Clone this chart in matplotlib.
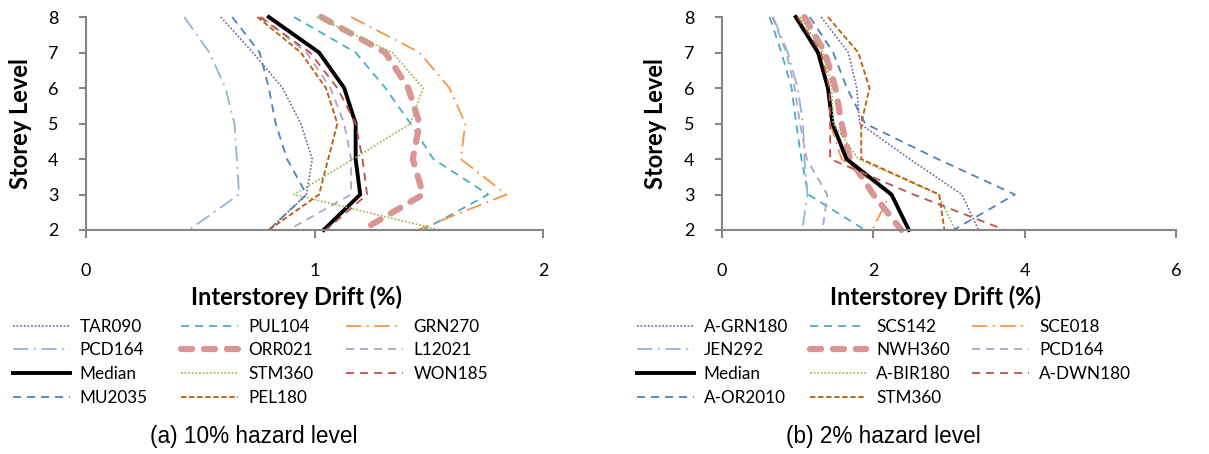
import numpy as np
import matplotlib
matplotlib.use('Agg')
import matplotlib.pyplot as plt

plt.rcParams['font.family'] = ['Lato', 'DejaVu Sans']
plt.rcParams['lines.scale_dashes'] = False

storeys = [8, 7, 6, 5, 4, 3, 2]

# (a) 10% hazard level
names_a = ['TAR090', 'PUL104', 'GRN270', 'PCD164', 'ORR021', 'L12021',
           'Median', 'STM360', 'WON185', 'MU2035', 'PEL180']
drift_a = {
    'TAR090': [0.59, 0.73, 0.86, 0.94, 0.99, 0.965, 0.80],
    'PUL104': [0.91, 1.18, 1.31, 1.42, 1.52, 1.76, 1.475],
    'GRN270': [1.16, 1.46, 1.59, 1.66, 1.64, 1.84, 1.45],
    'PCD164': [0.43, 0.54, 0.61, 0.65, 0.66, 0.67, 0.45],
    'ORR021': [1.03, 1.31, 1.41, 1.46, 1.43, 1.475, 1.21],
    'L12021': [0.77, 0.965, 1.07, 1.13, 1.16, 1.16, 0.885],
    'Median': [0.80, 1.02, 1.13, 1.18, 1.18, 1.20, 1.04],
    'STM360': [1.01, 1.34, 1.475, 1.42, 1.17, 0.91, 1.55],
    'WON185': [0.76, 0.98, 1.10, 1.18, 1.21, 1.23, 1.05],
    'MU2035': [0.64, 0.76, 0.80, 0.83, 0.88, 0.965, 0.80],
    'PEL180': [0.75, 0.94, 1.05, 1.10, 1.06, 1.02, 0.80],
}

# (b) 2% hazard level
names_b = ['A-GRN180', 'SCS142', 'SCE018', 'JEN292', 'NWH360', 'PCD164',
           'Median', 'A-BIR180', 'A-DWN180', 'A-OR2010', 'STM360']
drift_b = {
    'A-GRN180': [1.31, 1.67, 1.78, 1.82, 2.48, 3.17, 3.39],
    'SCS142': [0.63, 0.785, 0.92, 0.98, 1.05, 1.14, 1.89],
    'SCE018': [0.96, 1.25, 1.40, 1.43, 1.58, 2.22, 1.985],
    'JEN292': [0.675, 0.87, 1.00, 1.07, 1.09, 1.13, 1.06],
    'NWH360': [1.09, 1.36, 1.50, 1.58, 1.69, 2.00, 2.37],
    'PCD164': [0.665, 0.85, 0.96, 1.03, 1.12, 1.39, 1.33],
    'Median': [0.975, 1.27, 1.40, 1.46, 1.645, 2.24, 2.47],
    'A-BIR180': [1.03, 1.34, 1.45, 1.47, 1.80, 2.86, 3.08],
    'A-DWN180': [1.00, 1.31, 1.42, 1.43, 1.43, 2.53, 3.74],
    'A-OR2010': [1.16, 1.47, 1.65, 1.89, 2.85, 3.87, 3.06],
    'STM360': [1.40, 1.80, 1.95, 1.84, 1.84, 2.87, 2.94],
}

# line styles by legend slot (same look in both panels)
styles = [
    dict(color='#8064A2', lw=1.2, dashes=(1.3, 1.3)),
    dict(color='#4BACC6', lw=1.3, dashes=(5.8, 4.3)),
    dict(color='#F79646', lw=1.3, dashes=(11, 4, 1.4, 4)),
    dict(color='#95B3D7', lw=1.3, dashes=(11, 4, 1.4, 4)),
    dict(color='#D99694', lw=4.5, dashes=(8, 8.5), dash_capstyle='round'),
    dict(color='#B3A2C7', lw=1.3, dashes=(5.8, 4.3)),
    dict(color='black', lw=2.8),
    dict(color='#9BBB59', lw=1.2, dashes=(1.3, 1.3)),
    dict(color='#C0504D', lw=1.3, dashes=(5.8, 4.3)),
    dict(color='#4F81BD', lw=1.3, dashes=(5.8, 4.3)),
    dict(color='#BF5B0A', lw=1.3, dashes=(3.9, 1.9)),
]

fig = plt.figure(figsize=(12.09, 4.54), dpi=100)
ax1 = fig.add_axes([86/1209, 1-230/454, 457/1209, 213/454])
ax2 = fig.add_axes([722/1209, 1-230/454, 454/1209, 213/454])

# legend order: fill column-wise so it reads row-wise like the original
order = [0, 3, 6, 9, 1, 4, 7, 10, 2, 5, 8]

panels = [
    (ax1, names_a, drift_a, 2, [0, 1, 2], 0.46, -0.118, 13, 1.95, '(a) 10% hazard level', 254),
    (ax2, names_b, drift_b, 6, [0, 2, 4, 6], 0.471, -0.121, 637, 1.25, '(b) 2% hazard level', 883),
]

for ax, names, drift, xmax, xt, lx, ly, legx, colsp, cap, capx in panels:
    lines = []
    for i, n in enumerate(names):
        ln, = ax.plot(drift[n], storeys, label=n, **styles[i])
        ln.set_clip_on(False)
        lines.append(ln)
    ax.set_xlim(0, xmax)
    ax.set_ylim(2, 8)
    ax.set_xticks(xt)
    ax.set_yticks(range(2, 9))
    for s in ['top', 'right']:
        ax.spines[s].set_visible(False)
    for s in ['left', 'bottom']:
        ax.spines[s].set_color('#868686')
        ax.spines[s].set_linewidth(1.5)
    ax.tick_params(axis='x', direction='out', length=6, width=1.5, color='#868686',
                   labelsize=13, pad=17.5)
    ax.tick_params(axis='y', direction='out', length=5, width=1.5, color='#868686',
                   labelsize=13, pad=15)
    ax.set_xlabel('Interstorey Drift (%)', fontsize=17, fontweight='bold')
    ax.xaxis.set_label_coords(lx, -0.262)
    ax.set_ylabel('Storey Level', fontsize=17, fontweight='bold')
    ax.yaxis.set_label_coords(ly, 0.5)
    fig.legend([lines[k] for k in order], [names[k] for k in order],
               ncol=3, loc='upper left', bbox_to_anchor=(legx/1209, 1-318.5/454),
               frameon=False, fontsize=12.3, handlelength=3.33, handletextpad=0.58,
               columnspacing=colsp, labelspacing=0.46, borderpad=0, borderaxespad=0)
    fig.text(capx/1209, 1-437/454, cap, ha='center', va='center', fontsize=16.3,
             family=['Liberation Sans', 'DejaVu Sans'])

fig.savefig('out.png', dpi=100)
